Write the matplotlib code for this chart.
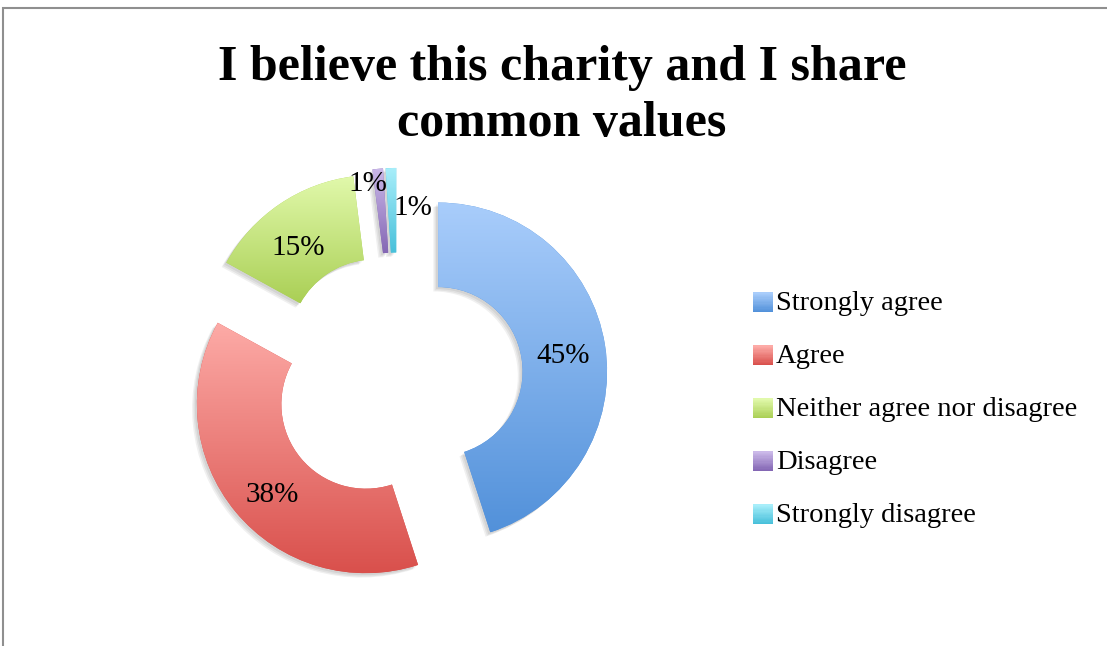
import matplotlib
matplotlib.use("Agg")
import matplotlib.pyplot as plt
import numpy as np
from matplotlib.colors import LinearSegmentedColormap, to_rgb
from matplotlib.patches import Rectangle, Patch, PathPatch
from matplotlib.transforms import Affine2D
from matplotlib.legend_handler import HandlerBase

categories = ["Strongly agree", "Agree", "Neither agree nor disagree",
              "Disagree", "Strongly disagree"]
shares = [45, 38, 15, 1, 1]
pct_labels = ["45%", "38%", "15%", "1%", "1%"]
title = "I believe this charity and I share\ncommon values"

top_colors = ["#a9cdfb", "#fdaba7", "#e1f9ab", "#cbb9e9", "#a8eefa"]
bottom_colors = ["#5291da", "#d9504c", "#aacf55", "#8467b4", "#48c0da"]

W, H = 1107, 646
fig = plt.figure(figsize=(W / 100, H / 100), dpi=100)
fig.patch.set_facecolor("white")

serif = ["Liberation Serif", "DejaVu Serif"]

# outer frame (runs off the right and bottom edges)
fig.add_artist(Rectangle((3 / W, -0.1), 1.2, (H - 8) / H + 0.1,
                         transform=fig.transFigure, fill=False,
                         edgecolor="#8f8f8f", linewidth=1.5))

# pie axes: 1 data unit = 169 px, centred at (397.5, 378) px
R_PX = 169.0
cx, cy = 397.5, 378.0
half = 250.0
ax = fig.add_axes([(cx - half) / W, (H - cy - half) / H, 2 * half / W, 2 * half / H])
ax.set_aspect("equal")
ax.axis("off")

explode = [0.243] * len(shares)
wedges, texts, autotexts = ax.pie(
    shares, explode=explode, startangle=90, counterclock=False, radius=1.0,
    wedgeprops=dict(width=0.5, linewidth=0), autopct="%1.0f%%",
    pctdistance=0.75, textprops=dict(fontsize=21, family=serif, color="black"),
)

# soft drop shadow under each segment
for w in wedges:
    for dx, dy in [(-0.012, -0.012), (-0.02, -0.02), (-0.028, -0.026)]:
        ax.add_patch(PathPatch(
            w.get_path(), facecolor="black", edgecolor="none", alpha=0.06,
            transform=Affine2D().translate(dx, dy) + ax.transData, zorder=0.5))

# vertical gradient fill clipped to each segment
grad = np.linspace(0, 1, 256).reshape(-1, 1)
for w, ct, cb in zip(wedges, top_colors, bottom_colors):
    w.set_facecolor(cb)
    w.set_zorder(1)
    ext = w.get_path().get_extents()
    cmap = LinearSegmentedColormap.from_list("g", [cb, ct])
    im = ax.imshow(grad, cmap=cmap, origin="lower", aspect="auto",
                   extent=[ext.x0, ext.x1, ext.y0, ext.y1], zorder=2,
                   interpolation="bilinear")
    im.set_clip_path(w)

ax.set_xlim(-half / R_PX, half / R_PX)
ax.set_ylim(-half / R_PX, half / R_PX)

# label nudges (data units); the two narrow segments carry theirs beside them
label_offsets = [(0.0, -0.024), (0.024, -0.06), (-0.03, -0.053),
                 (-0.08, 0.16), (0.123, 0.013)]
for t, lab, (ox, oy) in zip(autotexts, pct_labels, label_offsets):
    t.set_text(lab)
    t.set_zorder(5)
    x, y = t.get_position()
    t.set_position((x + ox, y + oy))

fig.text(562 / W, 1 - 96 / H, title, ha="center", va="center",
         fontsize=36, fontweight="bold", family=serif, linespacing=1.27)


class GradientSquare(HandlerBase):
    """Legend key drawn as a small square shading from light (top) to dark."""

    def __init__(self, top, bottom, steps=16):
        super().__init__()
        self.top, self.bottom, self.steps = to_rgb(top), to_rgb(bottom), steps

    def create_artists(self, legend, orig_handle, xdescent, ydescent,
                       width, height, fontsize, trans):
        side = min(width, height)
        y0 = -ydescent + (height - side) / 2 - 0.08 * fontsize
        artists = []
        for k in range(self.steps):
            f = k / (self.steps - 1)
            col = tuple(b + (t - b) * f for t, b in zip(self.top, self.bottom))
            artists.append(Rectangle((-xdescent, y0 + side * k / self.steps),
                                     side, side / self.steps + 0.3,
                                     facecolor=col, edgecolor="none",
                                     transform=trans))
        return artists


handles = [Patch(facecolor=b) for b in bottom_colors]
handler_map = {h: GradientSquare(t, b) for h, t, b in zip(handles, top_colors, bottom_colors)}
leg = fig.legend(handles, categories, handler_map=handler_map, loc="center left",
                 bbox_to_anchor=(727 / W, 1 - 409 / H), frameon=False,
                 prop=dict(family=serif, size=20.5),
                 handlelength=0.7, handleheight=0.7, handletextpad=0.12,
                 labelspacing=0.95)

fig.savefig("out.png", dpi=100, facecolor="white")
